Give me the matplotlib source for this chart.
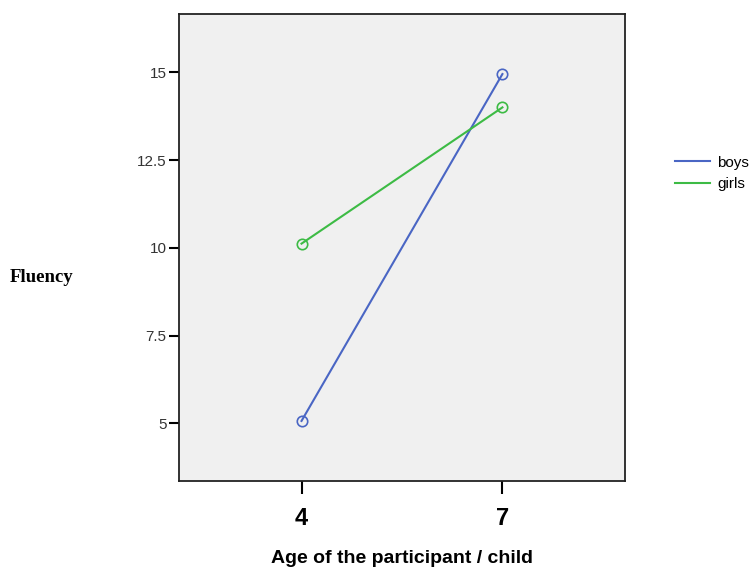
import matplotlib.pyplot as plt
import numpy as np

ages = ['4', '7']
boys = [5.07, 14.95]
girls = [10.12, 14.0]
y_ticks = [5, 7.5, 10, 12.5, 15]
y_tick_labels = ['5', '7.5', '10', '12.5', '15']

fig = plt.figure(figsize=(7.51, 5.69), dpi=100)
ax = fig.add_axes([0.2383, 0.1547, 0.5939, 0.8207])
ax.set_facecolor('#f0f0f0')

x = np.arange(len(ages))
ax.plot(x, boys, color='#4a66c4', lw=1.5, marker='o', markersize=7.5,
        markerfacecolor='none', markeredgewidth=1.2, label='boys')
ax.plot(x, girls, color='#3dbb45', lw=1.5, marker='o', markersize=7.5,
        markerfacecolor='none', markeredgewidth=1.2, label='girls')

ax.set_xlim(-0.61, 1.61)
ax.set_ylim(3.36, 16.66)
ax.set_xticks(x)
ax.set_xticklabels(ages, fontsize=17, fontweight='bold', family='Liberation Sans')
ax.set_yticks(y_ticks)
ax.set_yticklabels(y_tick_labels, fontsize=11, family='Liberation Sans', color='#333333')
ax.tick_params(axis='x', length=9, width=1.5, pad=10)
ax.tick_params(axis='y', length=7, width=1.5, pad=2)
for s in ax.spines.values():
    s.set_linewidth(1.3)
    s.set_color('#222222')

ax.set_xlabel('Age of the participant / child', fontsize=14, fontweight='bold',
              family='Liberation Sans', labelpad=14)
fig.text(0.013, 0.513, 'Fluency', fontsize=13.5, fontweight='bold',
         family='Liberation Serif', va='center', ha='left')

leg_lines = ax.get_lines()
fig.legend(handles=[plt.Line2D([], [], color=l.get_color(), lw=1.5) for l in leg_lines],
           labels=['boys', 'girls'], loc='upper left', bbox_to_anchor=(0.890, 0.737),
           frameon=False, prop={'family': 'Liberation Sans', 'size': 11},
           handlelength=2.3, handletextpad=0.5, labelspacing=0.5, borderaxespad=0)

fig.savefig('out.png', dpi=100)
